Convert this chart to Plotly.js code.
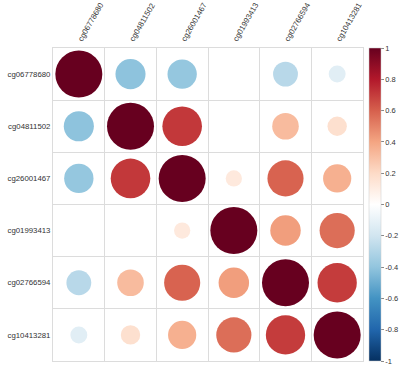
<!DOCTYPE html>
<html>
<head>
<meta charset="utf-8">
<script src="https://cdn.plot.ly/plotly-3.0.1.min.js"></script>
<style>html,body{margin:0;padding:0;background:#fff;}#chart{width:410px;height:372px;}</style>
</head>
<body>
<div id="chart"></div>
<script>
const labels = ["cg06778680","cg04811502","cg26001467","cg01993413","cg02766594","cg10413281"];
const row1 = [1.00,-0.41,-0.39,0.00,-0.28,-0.13];
const row2 = [-0.41,1.00,0.71,0.00,0.32,0.17];
const row3 = [-0.39,0.71,1.00,0.12,0.59,0.36];
const row4 = [0.00,0.00,0.12,1.00,0.42,0.56];
const row5 = [-0.28,0.32,0.59,0.42,1.00,0.70];
const row6 = [-0.13,0.17,0.36,0.56,0.70,1.00];
const corr = [row1,row2,row3,row4,row5,row6];
const cbTicks = [-1,-0.8,-0.6,-0.4,-0.2,0,0.2,0.4,0.6,0.8,1];

const rdbu = [
  [0.0,"#053061"],[0.1,"#2166AC"],[0.2,"#4393C3"],[0.3,"#92C5DE"],[0.4,"#D1E5F0"],
  [0.5,"#FFFFFF"],[0.6,"#FDDBC7"],[0.7,"#F4A582"],[0.8,"#D6604D"],[0.9,"#B2182B"],[1.0,"#67001F"]
];
const maxDiam = 47;
const xs=[], ys=[], cs=[], ss=[];
corr.forEach((row,i)=>row.forEach((v,j)=>{
  xs.push(labels[j]); ys.push(labels[i]); cs.push(v);
  ss.push(Math.sqrt(Math.abs(v))*maxDiam);
}));
const n = labels.length;

const trace = {
  type:"scatter", mode:"markers", x:xs, y:ys,
  hoverinfo:"skip",
  marker:{
    size:ss, sizemode:"diameter", color:cs, colorscale:rdbu, cmin:-1, cmax:1,
    opacity:1, line:{width:0},
    colorbar:{
      x:1.019, xanchor:"left", xpad:0, y:0.5, yanchor:"middle", ypad:0,
      len:1, lenmode:"fraction", thickness:11.5,
      outlinewidth:0.5, outlinecolor:"#cccccc",
      tickvals:cbTicks, ticktext:cbTicks.map(String),
      ticks:"outside", ticklen:3, tickcolor:"#888",
      tickfont:{family:"Liberation Sans, Arial, sans-serif", size:7.5, color:"#333"}
    }
  }
};
const axFont = {family:"Liberation Sans, Arial, sans-serif", size:7.8, color:"#333"};
const layout = {
  width:410, height:372,
  margin:{l:53, r:45, t:48, b:11, pad:0},
  paper_bgcolor:"#fff", plot_bgcolor:"#fff",
  showlegend:false,
  xaxis:{
    type:"category", categoryorder:"array", categoryarray:labels, range:[-0.5, n-0.5],
    side:"top", tickangle:-60, tickson:"boundaries", automargin:false,
    showgrid:true, gridcolor:"#dcdcdc", gridwidth:1,
    showline:true, mirror:true, linecolor:"#dcdcdc", linewidth:1,
    ticks:"", zeroline:false, tickfont:axFont, fixedrange:true
  },
  yaxis:{
    type:"category", categoryorder:"array", categoryarray:labels, range:[n-0.5, -0.5],
    tickson:"boundaries", automargin:false,
    showgrid:true, gridcolor:"#dcdcdc", gridwidth:1,
    showline:true, mirror:true, linecolor:"#dcdcdc", linewidth:1,
    ticks:"", zeroline:false, tickfont:axFont, fixedrange:true
  }
};
Plotly.newPlot("chart",[trace],layout,{displayModeBar:false,staticPlot:true});
</script>
</body>
</html>
